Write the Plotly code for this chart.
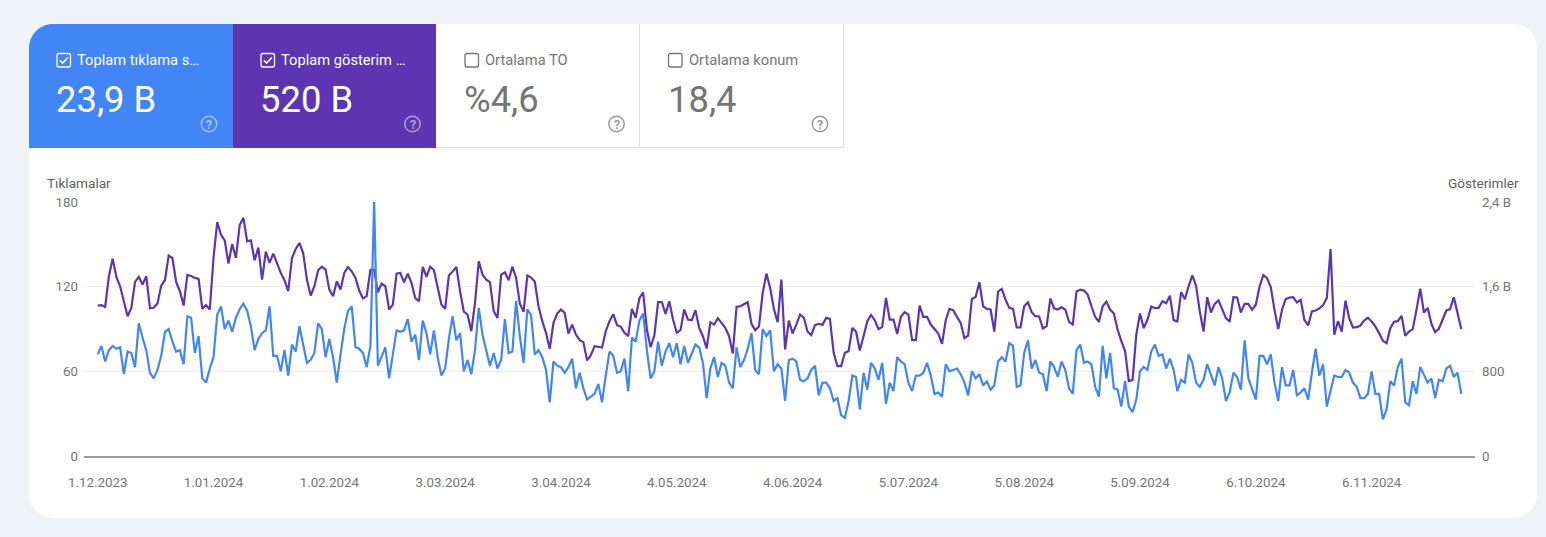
import pandas as pd
import plotly.graph_objects as go

tick_dates = ["2023-12-01", "2024-01-01", "2024-02-01", "2024-03-03", "2024-04-03", "2024-05-04",
              "2024-06-04", "2024-07-05", "2024-08-05", "2024-09-05", "2024-10-06", "2024-11-06"]
tick_labels = ["1.12.2023", "1.01.2024", "1.02.2024", "3.03.2024", "3.04.2024", "4.05.2024",
               "4.06.2024", "5.07.2024", "5.08.2024", "5.09.2024", "6.10.2024", "6.11.2024"]
days = pd.date_range("2023-12-01", "2024-11-30")

clicks = [
    72, 78, 67, 75, 78, 76, 77, 58, 74, 73, 63, 94, 84, 75, 59, 55, 61, 71, 88, 90,
    81, 74, 75, 65, 99, 98, 73, 85, 55, 52, 62, 70, 100, 106, 90, 96, 88, 98, 104, 108,
    103, 92, 75, 83, 87, 89, 106, 71, 71, 60, 75, 57, 79, 74, 92, 78, 66, 68, 73, 94,
    90, 70, 83, 70, 52, 72, 90, 103, 106, 77, 76, 73, 63, 78, 180, 64, 70, 77, 55,
    71, 89, 88, 89, 97, 81, 86, 68, 96, 87, 72, 89, 70, 57, 62, 83, 99, 82, 87, 60,
    68, 58, 75, 105, 86, 75, 64, 73, 62, 68, 97, 73, 74, 110, 85, 66, 104, 100, 72, 75,
    70, 61, 38, 67, 64, 63, 59, 63, 69, 48, 59, 48, 40, 42, 44, 51, 38, 57, 74, 71,
    59, 60, 69, 46, 84, 81, 96, 101, 75, 55, 60, 81, 64, 74, 80, 70, 80, 65, 78, 66,
    72, 79, 77, 66, 41, 62, 70, 56, 66, 64, 52, 48, 77, 63, 68, 76, 87, 61, 58,
    90, 85, 89, 60, 65, 62, 39, 68, 69, 67, 54, 53, 55, 61, 64, 43, 52, 52, 48, 39,
    41, 29, 27, 39, 57, 56, 33, 59, 47, 66, 62, 54, 66, 37, 52, 46, 70, 67, 65, 52,
    46, 57, 57, 59, 66, 57, 44, 45, 42, 65, 60, 61, 62, 58, 52, 43, 60, 55, 58, 50,
    53, 47, 50, 67, 70, 67, 80, 78, 49, 50, 73, 82, 62, 68, 59, 58, 46, 67, 63, 56,
    67, 61, 48, 44, 75, 79, 66, 67, 65, 49, 42, 78, 55, 73, 48, 47, 35, 53, 35, 31,
    40, 60, 63, 61, 74, 79, 71, 72, 62, 69, 61, 46, 54, 52, 72, 66, 52, 49, 54, 65,
    57, 50, 63, 55, 39, 45, 59, 56, 47, 82, 55, 47, 40, 71, 71, 65, 72, 52, 39, 63,
    50, 50, 61, 43, 45, 48, 40, 59, 76, 57, 65, 35, 46, 57, 56, 56, 61, 59, 52, 49,
    41, 41, 44, 60, 44, 44, 26, 33, 53, 50, 63, 69, 38, 36, 53, 44, 63, 57, 52, 55,
    41, 54, 53, 62, 64, 56, 59, 44,
]

# gösterimler, in thousands ("B" on the right axis)
impressions = [
    1422, 1425, 1409, 1698, 1865, 1692, 1604, 1447, 1321, 1400, 1645, 1692, 1620, 1698, 1396, 1400, 1440, 1610, 1661, 1893,
    1871, 1645, 1557, 1422, 1711, 1701, 1683, 1673, 1393, 1425, 1384, 1871, 2211, 2091, 2038, 1818, 2003, 1871, 2179, 2252,
    2028, 2038, 1849, 1969, 1667, 1931, 1824, 1912, 1818, 1730, 1661, 1557, 1871, 1956, 2013, 1918, 1667, 1516, 1604, 1755,
    1789, 1761, 1572, 1510, 1651, 1572, 1730, 1786, 1745, 1683, 1563, 1488, 1510, 1758, 1758, 1547, 1629, 1604, 1384,
    1431, 1723, 1730, 1642, 1723, 1635, 1491, 1462, 1786, 1692, 1789, 1755, 1588, 1431, 1390, 1705, 1742, 1786, 1557, 1365,
    1337, 1179, 1447, 1840, 1714, 1667, 1642, 1368, 1305, 1714, 1736, 1661, 1789, 1683, 1440, 1362, 1705, 1686, 1648, 1415,
    1274, 1164, 1013, 1258, 1346, 1384, 1352, 1157, 1242, 1148, 1094, 1076, 903, 953, 1038, 1035, 1025, 1179, 1274, 1340,
    1236, 1223, 1164, 1132, 1390, 1305, 1491, 1547, 1195, 1028, 1138, 1453, 1453, 1343, 1462, 1289, 1164, 1189, 1384, 1289,
    1283, 1378, 1211, 1132, 1016, 1264, 1242, 1302, 1258, 1211, 1132, 969, 1409, 1415, 1434, 1453, 1249, 1189, 1223,
    1540, 1723, 1588, 1390, 1264, 1667, 1006, 1280, 1157, 1242, 1337, 1308, 1176, 1142, 1236, 1249, 1239, 1305, 1296, 975,
    849, 849, 975, 991, 1211, 1173, 997, 1132, 1274, 1333, 1283, 1198, 1220, 1494, 1289, 1289, 1154, 1315, 1359, 1337,
    1094, 1094, 1422, 1315, 1315, 1242, 1201, 1157, 1060, 1283, 1390, 1378, 1315, 1258, 1113, 1138, 1484, 1503, 1642, 1415,
    1390, 1384, 1176, 1554, 1579, 1478, 1400, 1390, 1214, 1214, 1415, 1453, 1359, 1321, 1318, 1205, 1227, 1488, 1396, 1384,
    1406, 1384, 1267, 1242, 1554, 1572, 1563, 1525, 1415, 1315, 1267, 1415, 1459, 1384, 1346, 1195, 1085, 991, 708, 717,
    1145, 1346,
    1208, 1287, 1413, 1397, 1400, 1463, 1444, 1514, 1284, 1271, 1549, 1482, 1602, 1706, 1609, 1366, 1176, 1501, 1356, 1438,
    1470, 1381, 1303, 1268, 1501, 1498, 1356, 1438, 1438, 1381, 1429, 1602, 1709, 1681, 1596, 1381, 1199, 1381, 1482, 1498,
    1501, 1451, 1476, 1287, 1233, 1366, 1375, 1394, 1426, 1492, 1955, 1145, 1274, 1176, 1467, 1303, 1214, 1217, 1233, 1281,
    1306, 1271, 1224, 1161, 1088, 1066, 1208, 1268, 1274, 1325, 1135, 1176, 1199, 1381, 1580, 1356, 1400, 1249, 1170, 1202,
    1287, 1375, 1388, 1501, 1350, 1199,
]

if len(clicks) != len(days) or len(impressions) != len(days):
    raise ValueError(f"lengths {len(clicks)} {len(impressions)} {len(days)}")

BLUE = "#4285f4"
PURPLE = "#5e35b1"
GREY = "#757575"
BORDER = "#e0e0e0"
AXIS_FONT = 13.3

# plot area in page pixels
LEFT, RIGHT, TOP, BOTTOM = 84, 1475, 202, 456


def px(x):
    return (x - LEFT) / (RIGHT - LEFT)


def py(y):
    return (BOTTOM - y) / (BOTTOM - TOP)


def pt(x, y):
    return f"{px(x):.5f},{py(y):.5f}"


def rect_path(x0, y0, x1, y1, tl=0, tr=0, br=0, bl=0):
    k = 0.45
    d = f"M{pt(x0 + tl, y0)} L{pt(x1 - tr, y0)} "
    if tr:
        d += f"C{pt(x1 - tr * k, y0)} {pt(x1, y0 + tr * k)} {pt(x1, y0 + tr)} "
    d += f"L{pt(x1, y1 - br)} "
    if br:
        d += f"C{pt(x1, y1 - br * k)} {pt(x1 - br * k, y1)} {pt(x1 - br, y1)} "
    d += f"L{pt(x0 + bl, y1)} "
    if bl:
        d += f"C{pt(x0 + bl * k, y1)} {pt(x0, y1 - bl * k)} {pt(x0, y1 - bl)} "
    d += f"L{pt(x0, y0 + tl)} "
    if tl:
        d += f"C{pt(x0, y0 + tl * k)} {pt(x0 + tl * k, y0)} {pt(x0 + tl, y0)} "
    return d + "Z"


def add_shape(path, fill=None, line=None, width=0, opacity=1):
    fig.add_shape(type="path", path=path, xref="paper", yref="paper", layer="below", opacity=opacity,
                  fillcolor=fill or "rgba(0,0,0,0)", line=dict(color=line or "rgba(0,0,0,0)", width=width))


def add_text(x, y, text, size, color, anchor="left", opacity=1):
    fig.add_annotation(x=px(x), y=py(y), xref="paper", yref="paper", text=text, showarrow=False,
                       xanchor=anchor, yanchor="middle", xshift=0, opacity=opacity, borderpad=0, borderwidth=0,
                       font=dict(family="Roboto", size=size, color=color))


fig = go.Figure()

# purple stays on the first y axis so the blue line draws over it
fig.add_trace(go.Scatter(x=days, y=impressions, mode="lines", yaxis="y", line=dict(color=PURPLE, width=2.2), name="Gösterimler"))
fig.add_trace(go.Scatter(x=days, y=clicks, mode="lines", yaxis="y2", line=dict(color=BLUE, width=2.2), name="Tıklamalar"))

# card and tiles
add_shape(rect_path(29, 24, 1537, 518, 24, 24, 24, 24), fill="white")
add_shape(rect_path(29, 24, 233, 148, tl=24), fill=BLUE)
add_shape(rect_path(233, 24, 436, 148), fill=PURPLE)
add_shape(f"M{pt(436, 147.5)} L{pt(843.5, 147.5)}", line=BORDER, width=1)
add_shape(f"M{pt(639.5, 24)} L{pt(639.5, 148)}", line=BORDER, width=1)
add_shape(f"M{pt(843.5, 24)} L{pt(843.5, 148)}", line=BORDER, width=1)

tiles = [
    (57, "Toplam tıklama s…", "23,9 B", "white", True, 209),
    (261, "Toplam gösterim …", "520 B", "white", True, 412.5),
    (465, "Ortalama TO", "%4,6", GREY, False, 616.5),
    (668.5, "Ortalama konum", "18,4", GREY, False, 820),
]
for x, label, value, color, checked, help_x in tiles:
    add_shape(rect_path(x, 53.5, x + 13.5, 67, 2, 2, 2, 2), line=color, width=1.3)
    if checked:
        add_shape(f"M{pt(x + 3, 60.5)} L{pt(x + 5.6, 63)} L{pt(x + 10.8, 57.5)}", line=color, width=1.6)
    add_text(x + 20, 60, label, 14.7, color)
    add_text(x - 1, 99.5, value, 36.4, color)
    # help icon
    help_color = "white" if checked else "#8a8a8a"
    help_op = 0.5 if checked else 0.85
    fig.add_shape(type="circle", xref="paper", yref="paper", layer="below", opacity=help_op,
                  x0=px(help_x - 7.7), x1=px(help_x + 7.7), y0=py(124 + 7.7), y1=py(124 - 7.7),
                  line=dict(color=help_color, width=1.5))
    add_text(help_x, 124, "<b>?</b>", 12.5, help_color, anchor="center", opacity=help_op)

add_text(47, 183, "Tıklamalar", 13.6, "#616161")
add_text(1519, 183, "Gösterimler", 13.6, "#616161", anchor="right")

fig.update_layout(
    width=1546,
    height=537,
    margin=dict(l=LEFT, r=1546 - RIGHT, t=TOP, b=537 - BOTTOM),
    paper_bgcolor="#eff3f8",
    plot_bgcolor="rgba(0,0,0,0)",
    showlegend=False,
    font=dict(family="Roboto", size=AXIS_FONT, color=GREY),
    xaxis=dict(
        range=[days[0] - pd.Timedelta(hours=88), days[-1] + pd.Timedelta(hours=88)],
        tickmode="array",
        tickvals=tick_dates,
        ticktext=tick_labels,
        showgrid=False,
        showline=True,
        linecolor="#9e9e9e",
        linewidth=2,
        ticks="",
        zeroline=False,
        tickangle=0,
        ticklabelstandoff=13,
    ),
    yaxis=dict(
        side="right",
        range=[0, 2400],
        tickmode="array",
        tickvals=[0, 800, 1600, 2400],
        ticktext=["0", "800", "1,6 B", "2,4 B"],
        showgrid=True,
        gridcolor="#eeeeee",
        gridwidth=1,
        zeroline=False,
        ticks="",
        ticklabelstandoff=6,
    ),
    yaxis2=dict(
        side="left",
        overlaying="y",
        range=[0, 180],
        tickmode="array",
        tickvals=[0, 60, 120, 180],
        ticktext=["0", "60", "120", "180"],
        showgrid=False,
        zeroline=False,
        ticks="",
        ticklabelstandoff=5,
    ),
)

fig.write_html("out.html", config={"displayModeBar": False},
               post_script="document.body.style.margin='0';document.body.style.background='#eff3f8';")
